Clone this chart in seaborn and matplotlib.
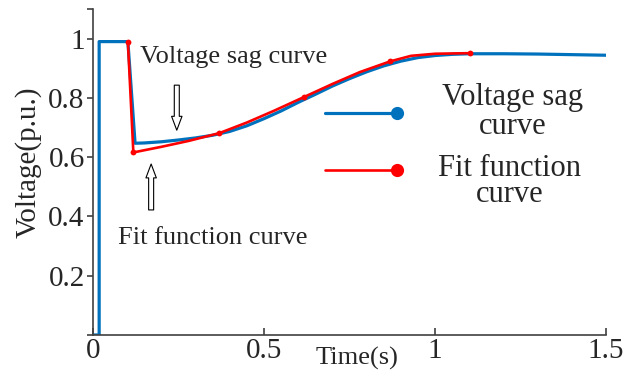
import matplotlib
matplotlib.use("Agg")
import matplotlib.pyplot as plt
import seaborn as sns
from matplotlib.lines import Line2D

# ---- data ----
blue_t = [0.0, 0.018, 0.018, 0.102, 0.123, 0.15, 0.20, 0.25, 0.30, 0.35, 0.40, 0.45,
          0.50, 0.55, 0.60, 0.65, 0.70, 0.75, 0.80, 0.85, 0.90, 0.95, 1.00, 1.05,
          1.10, 1.20, 1.30, 1.40, 1.50]
blue_v = [0.0, 0.0, 0.99, 0.99, 0.647, 0.648, 0.652, 0.658, 0.665, 0.674, 0.687, 0.706,
          0.730, 0.756, 0.785, 0.812, 0.840, 0.865, 0.888, 0.908, 0.924, 0.936, 0.943, 0.947,
          0.949, 0.949, 0.948, 0.946, 0.944]

red_t = [0.102, 0.118, 0.20, 0.28, 0.369, 0.45, 0.53, 0.617, 0.70, 0.78, 0.868, 0.93, 1.00, 1.102]
red_v = [0.99, 0.616, 0.635, 0.655, 0.681, 0.717, 0.757, 0.803, 0.847, 0.887, 0.923, 0.942, 0.949, 0.951]
red_knots = [0, 1, 4, 7, 10, 13]

x_ticks = [0, 0.5, 1, 1.5]
x_ticklabels = ["0", "0.5", "1", "1.5"]
y_ticks = [0, 0.2, 0.4, 0.6, 0.8, 1.0, 1.1]
y_ticklabels = ["", "0.2", "0.4", "0.6", "0.8", "1", ""]

legend_labels = ["Voltage sag\ncurve", "Fit function\ncurve"]

BLUE = "#0072BD"
RED = "#FF0000"

sns.set_style("ticks")
plt.rcParams["font.family"] = ["Liberation Serif", "DejaVu Serif"]

fig = plt.figure(figsize=(6.38, 3.78), dpi=100)
ax = fig.add_axes([93 / 638, 43 / 378, 513 / 638, 326 / 378])

sns.lineplot(x=blue_t, y=blue_v, ax=ax, sort=False, estimator=None,
             color=BLUE, linewidth=2.3, zorder=2)
sns.lineplot(x=red_t, y=red_v, ax=ax, sort=False, estimator=None,
             color=RED, linewidth=1.9, marker="o", markersize=4.2,
             markeredgewidth=0, markevery=red_knots, zorder=3)

ax.set_xlim(0, 1.5)
ax.set_ylim(0, 1.1)
ax.set_xticks(x_ticks)
ax.set_xticklabels(x_ticklabels, fontsize=21)
ax.set_yticks(y_ticks)
ax.set_yticklabels(y_ticklabels, fontsize=21)

for side in ["top", "right"]:
    ax.spines[side].set_visible(False)
for side in ["left", "bottom"]:
    ax.spines[side].set_color("#404040")
    ax.spines[side].set_linewidth(1.2)

ax.tick_params(axis="x", direction="in", length=5, width=1.2, color="#404040", pad=2)
ax.tick_params(axis="y", direction="out", length=4, width=1.2, color="#404040", pad=2)

ax.set_xlabel("Time(s)", fontsize=19)
ax.xaxis.set_label_coords(0.515, -0.035)
ax.set_ylabel("Voltage(p.u.)", fontsize=21)
ax.yaxis.set_label_coords(-0.10, 0.53)

# annotations
ax.text(0.137, 0.918, "Voltage sag curve", fontsize=19, ha="left", va="baseline")
ax.text(0.073, 0.307, "Fit function curve", fontsize=19, ha="left", va="baseline")

arrow_kw = dict(facecolor="white", edgecolor="black", width=3.6, headwidth=7.5,
                headlength=10, shrink=0, linewidth=0.8)
ax.annotate("", xy=(0.245, 0.691), xytext=(0.245, 0.843), arrowprops=arrow_kw)
ax.annotate("", xy=(0.170, 0.577), xytext=(0.170, 0.422), arrowprops=arrow_kw)

# legend (manual)
W, H = 638, 378
legend_specs = [(113, BLUE, 2.3, legend_labels[0], 513, 83, 0.98),
                (170, RED, 1.9, legend_labels[1], 510, 154, 0.85)]
for yl, col, lw, label, xc, ytop, ls in legend_specs:
    fig.add_artist(Line2D([325 / W, 397 / W], [1 - yl / H, 1 - yl / H], color=col,
                          linewidth=lw, transform=fig.transFigure))
    fig.add_artist(Line2D([397 / W], [1 - yl / H], color=col, marker="o", markersize=9.5,
                          markeredgewidth=0, linestyle="none", transform=fig.transFigure))
    fig.text(xc / W, 1 - ytop / H, label, fontsize=22, ha="center", va="top",
             multialignment="center", linespacing=ls)

fig.savefig("out.png", dpi=100)
